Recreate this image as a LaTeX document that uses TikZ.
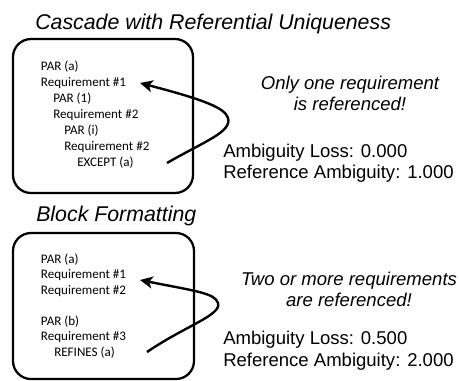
\documentclass[tikz,border=0pt]{standalone}
\usepackage{fontspec}
\setmainfont{Liberation Sans}
\newfontfamily\calfont{Carlito}
\usetikzlibrary{arrows.meta}
\begin{document}
\begin{tikzpicture}[x=0.75pt,y=-0.75pt,
  box/.style={draw, line width=1.7pt, rounded corners=13.5pt},
  req/.style={font=\calfont\fontsize{9.8}{11}\selectfont, anchor=base west, inner sep=0pt},
  ttl/.style={font=\itshape\fontsize{16}{19}\selectfont, anchor=base west, inner sep=0pt},
  note/.style={font=\itshape\fontsize{13.9}{16}\selectfont, anchor=base, inner sep=0pt},
  metric/.style={font=\fontsize{13.9}{16}\selectfont, anchor=base west, inner sep=0pt},
  refarrow/.style={line width=1.8pt, -{Stealth[length=9.5pt,width=9pt,inset=2.5pt]}}]
\useasboundingbox (0,0) rectangle (459,380);
% ---------- top panel ----------
\node[ttl] (title1) at (35,29) {Cascade with Referential Uniqueness};
\draw[box] (13,39) rectangle (193,193);
\node[req] (a1) at (40.7,70) {PAR (a)};
\node[req] (a2) at (40.7,86) {Requirement \#1};
\node[req] (a3) at (53,102) {PAR (1)};
\node[req] (a4) at (53,118) {Requirement \#2};
\node[req] (a5) at (64,134) {PAR (i)};
\node[req] (a6) at (64,150) {Requirement \#2};
\node[req] (a7) at (77,166) {EXCEPT (a)};
\coordinate (s1) at (167,163);
\coordinate (k1) at (228,118);
\coordinate (e1) at (140,83);
\draw[refarrow] (s1) .. controls (205,141) and (232,132) .. (k1)
                     .. controls (225,108) and (205,100) .. (e1);
\node[note] (n1a) at (350,89) {Only one requirement};
\node[note] (n1b) at (350,110) {is referenced!};
\node[metric] (m1a) at (223,157) {Ambiguity Loss: 0.000};
\node[metric] (m1b) at (223,178) {Reference Ambiguity: 1.000};
% ---------- bottom panel ----------
\node[ttl] (title2) at (36,221) {Block Formatting};
\draw[box] (13,233) rectangle (194,379);
\node[req] (b1) at (40.7,263) {PAR (a)};
\node[req] (b2) at (40.7,278.5) {Requirement \#1};
\node[req] (b3) at (40.7,294) {Requirement \#2};
\node[req] (b4) at (40.7,325) {PAR (b)};
\node[req] (b5) at (40.7,340.5) {Requirement \#3};
\node[req] (b6) at (54,356) {REFINES (a)};
\coordinate (s2) at (147,352);
\coordinate (k2) at (218,303);
\coordinate (e2) at (140,280);
\draw[refarrow] (s2) .. controls (185,326) and (222,315) .. (k2)
                     .. controls (215,293) and (195,291) .. (e2);
\node[note] (n2a) at (349,285) {Two or more requirements};
\node[note] (n2b) at (349,306) {are referenced!};
\node[metric] (m2a) at (223,344) {Ambiguity Loss: 0.500};
\node[metric] (m2b) at (223,366) {Reference Ambiguity: 2.000};
\end{tikzpicture}
\end{document}
